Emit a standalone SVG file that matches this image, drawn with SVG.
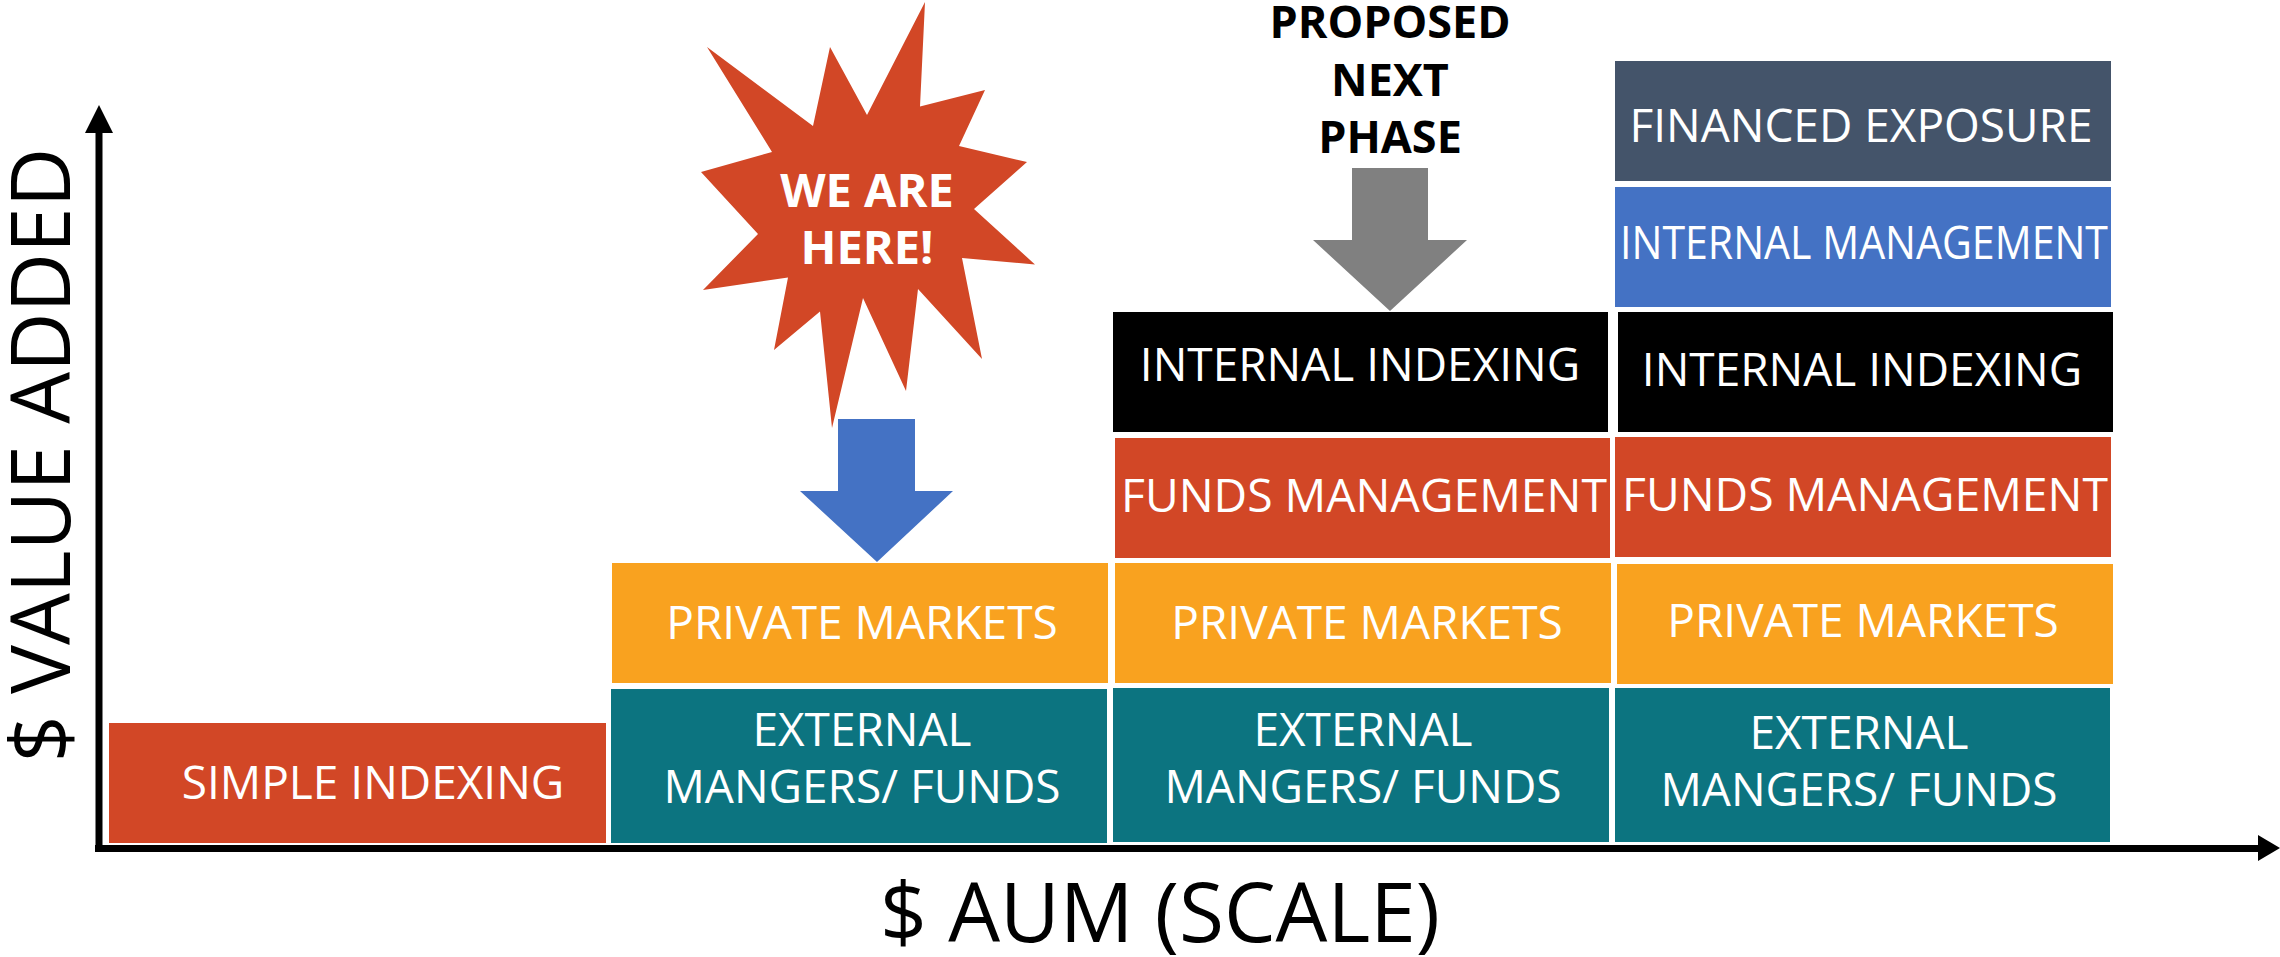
<svg xmlns="http://www.w3.org/2000/svg" width="2280" height="957" viewBox="0 0 2280 957">
<style>
.lbl{font-family:"Open Sans","Liberation Sans",sans-serif;font-size:46px;fill:#fff;text-anchor:middle}
.ax{font-family:"Open Sans","Liberation Sans",sans-serif;font-size:82px;fill:#000;text-anchor:middle}
.bold{font-family:"Open Sans","Liberation Sans",sans-serif;font-weight:bold;text-anchor:middle}
.red{fill:#D24726}.org{fill:#F9A21F}.teal{fill:#0C7480}.blk{fill:#000}.blue{fill:#4472C4}.slate{fill:#44546A}
</style>
<rect width="2280" height="957" fill="#fff"/>
<g id="connectors">
<line x1="99" y1="852" x2="99" y2="128" stroke="#000" stroke-width="7"/>
<polygon points="85,133 113,133 99,105" fill="#000"/>
<line x1="95" y1="848.5" x2="2262" y2="848.5" stroke="#000" stroke-width="7"/>
<polygon points="2258,835 2258,861 2280,848" fill="#000"/>
</g>
<text class="ax" transform="translate(70,455) rotate(-90)">$ VALUE ADDED</text>
<text class="ax" x="1160" y="942">$ AUM (SCALE)</text>
<g id="simple-indexing"><rect class="red" x="109" y="723" width="497" height="120"/><text class="lbl" x="373" y="799">SIMPLE INDEXING</text></g>
<g id="c2-external"><rect class="teal" x="611" y="689" width="496" height="154"/><text class="lbl" x="862" y="746">EXTERNAL</text><text class="lbl" x="862" y="803">MANGERS/ FUNDS</text></g>
<g id="c2-private"><rect class="org" x="612" y="563" width="496" height="120"/><text class="lbl" x="862" y="639">PRIVATE MARKETS</text></g>
<g id="c3-external"><rect class="teal" x="1113" y="688" width="496" height="154"/><text class="lbl" x="1363" y="746">EXTERNAL</text><text class="lbl" x="1363" y="803">MANGERS/ FUNDS</text></g>
<g id="c3-private"><rect class="org" x="1115" y="563" width="496" height="120"/><text class="lbl" x="1367" y="639">PRIVATE MARKETS</text></g>
<g id="c3-funds"><rect class="red" x="1115" y="438" width="495" height="120"/><text class="lbl" x="1364" y="512" textLength="486" lengthAdjust="spacingAndGlyphs">FUNDS MANAGEMENT</text></g>
<g id="c3-internal-indexing"><rect class="blk" x="1113" y="312" width="495" height="120"/><text class="lbl" x="1360" y="381">INTERNAL INDEXING</text></g>
<g id="c4-external"><rect class="teal" x="1615" y="688" width="495" height="154"/><text class="lbl" x="1859" y="749">EXTERNAL</text><text class="lbl" x="1859" y="806">MANGERS/ FUNDS</text></g>
<g id="c4-private"><rect class="org" x="1617" y="564" width="496" height="120"/><text class="lbl" x="1863" y="637">PRIVATE MARKETS</text></g>
<g id="c4-funds"><rect class="red" x="1615" y="437" width="496" height="120"/><text class="lbl" x="1865" y="511" textLength="486" lengthAdjust="spacingAndGlyphs">FUNDS MANAGEMENT</text></g>
<g id="c4-internal-indexing"><rect class="blk" x="1618" y="312" width="495" height="120"/><text class="lbl" x="1862" y="386">INTERNAL INDEXING</text></g>
<g id="c4-internal-management"><rect class="blue" x="1615" y="187" width="496" height="120"/><text class="lbl" x="1864" y="259" textLength="488" lengthAdjust="spacingAndGlyphs">INTERNAL MANAGEMENT</text></g>
<g id="c4-financed-exposure"><rect class="slate" x="1615" y="61" width="496" height="120"/><text class="lbl" x="1861" y="142">FINANCED EXPOSURE</text></g>
<g id="we-are-here">
<polygon class="red" points="925,2 920,106.5 985,90 959,146 1027,162 974,209 1035,264.5 962,258 982,359 918,289 906,391 863,298 832,428 820,311.5 774,350 788,277.5 703,290 758,234 701,172 772,152 707,47 813,126 830,47 867,115"/>
<text class="bold" x="867" y="207" font-size="47" fill="#fff">WE ARE</text>
<text class="bold" x="867" y="264" font-size="47" fill="#fff">HERE!</text>
</g>
<g id="blue-arrow"><polygon class="blue" points="838,419 915,419 915,491 953,491 877,562 800,491 838,491"/></g>
<g id="proposed-next-phase">
<text class="bold" x="1390" y="38" font-size="45" fill="#000">PROPOSED</text>
<text class="bold" x="1390" y="96" font-size="45" fill="#000">NEXT</text>
<text class="bold" x="1390" y="153" font-size="45" fill="#000">PHASE</text>
<polygon fill="#808080" points="1352,168 1428,168 1428,240 1467,240 1390,311 1313,240 1352,240"/>
</g>
</svg>
